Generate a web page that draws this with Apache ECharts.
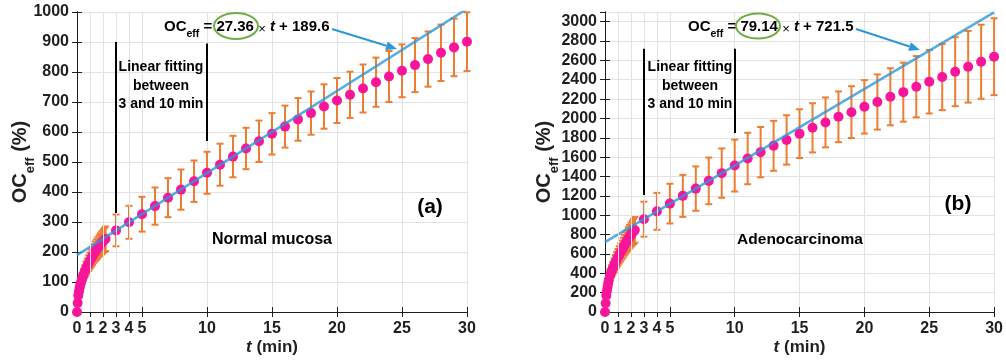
<!DOCTYPE html>
<html>
<head>
<meta charset="utf-8">
<script src="https://cdn.jsdelivr.net/npm/echarts@6.0.0/dist/echarts.min.js"></script>
<style>
html, body { margin: 0; padding: 0; background: #fff; }
#chart { width: 1006px; height: 363px; }
</style>
</head>
<body>
<div id="chart"></div>
<script>
// early samples, first minutes (min)
var earlyTimesA = [0, 0.05, 0.1, 0.15, 0.2, 0.25, 0.3, 0.4, 0.5, 0.6, 0.7, 0.8, 0.9, 1.0, 1.1, 1.2, 1.3, 1.4, 1.5, 1.6, 1.7, 1.8, 1.9, 2.0, 2.1, 2.2];
var earlyValuesA = [0, 30, 55, 68, 80, 90, 98, 112, 124, 135, 145, 154, 163, 171, 179, 187, 195, 202, 208, 214, 220, 225, 230, 235, 240, 244];
var earlyErrorsA = [0, 5, 8, 10, 12, 14, 15, 17, 19, 21, 23, 24, 26, 27, 29, 30, 31, 33, 34, 35, 36, 37, 38, 39, 40, 41];

var earlyTimesB = [0, 0.05, 0.1, 0.15, 0.2, 0.25, 0.3, 0.4, 0.5, 0.6, 0.7, 0.8, 0.9, 1.0, 1.1, 1.2, 1.3, 1.4, 1.5, 1.6, 1.7, 1.8, 1.9, 2.0, 2.1, 2.2, 2.3];
var earlyValuesB = [0, 90, 170, 220, 260, 300, 330, 385, 420, 450, 480, 510, 540, 565, 590, 615, 640, 665, 690, 712, 735, 758, 778, 798, 815, 832, 848];
var earlyErrorsB = [0, 14, 25, 32, 38, 44, 48, 56, 62, 67, 72, 77, 82, 86, 90, 94, 98, 102, 106, 110, 114, 118, 121, 124, 127, 130, 133];

// one sample per minute from 3 to 30 min
var minuteTimes = [3, 4, 5, 6, 7, 8, 9, 10, 11, 12, 13, 14, 15, 16, 17, 18, 19, 20, 21, 22, 23, 24, 25, 26, 27, 28, 29, 30];
var normalValues = [272, 299, 326, 353, 381, 408, 436, 464, 491, 518, 545, 569, 594, 618, 642, 663, 685, 705, 724, 745, 766, 785, 804, 823, 843, 864, 882, 901];
var normalErrors = [53, 55, 58, 62, 65, 67, 69, 70, 70, 69, 69, 69, 69, 70, 71, 72, 74, 75, 77, 80, 82, 85, 88, 90, 92, 94, 96, 98];
var adenoValues = [959, 1040, 1120, 1200, 1275, 1355, 1435, 1513, 1586, 1652, 1717, 1778, 1843, 1903, 1959, 2017, 2065, 2120, 2170, 2224, 2272, 2328, 2379, 2428, 2483, 2534, 2586, 2638];
var adenoErrors = [181, 191, 205, 217, 229, 241, 255, 268, 266, 260, 258, 255, 252, 254, 258, 262, 268, 276, 285, 295, 305, 316, 328, 342, 356, 370, 383, 397];

// linear fits (3-10 min)
var fitA = { slope: 27.36, intercept: 189.6 };
var fitB = { slope: 79.14, intercept: 721.5 };

var xTicks = [0, 1, 2, 3, 4, 5, 10, 15, 20, 25, 30];
var xExtraGrid = [1, 2, 3, 4];

var FONT = '"Liberation Sans", Arial, sans-serif';
var INK = '#1f1f1f';
var GRID = '#e2e2e2';
var PINK = '#f7159a';
var ORANGE = '#ed7d31';
var BLUE = '#2e97d8';

function points(ts, vs, es) {
    return ts.map(function (t, i) { return [t, vs[i], es[i]]; });
}
var dataA = points(earlyTimesA, earlyValuesA, earlyErrorsA).concat(points(minuteTimes, normalValues, normalErrors));
var dataB = points(earlyTimesB, earlyValuesB, earlyErrorsB).concat(points(minuteTimes, adenoValues, adenoErrors));

function fitLine(fit) {
    return [[0, fit.intercept], [30, fit.slope * 30 + fit.intercept]];
}

function errorBar(params, api) {
    var x = api.value(0), y = api.value(1), e = api.value(2);
    var hi = api.coord([x, y + e]);
    var lo = api.coord([x, y - e]);
    var cap = 3.5;
    var st = { stroke: ORANGE, lineWidth: 2 };
    return {
        type: 'group',
        children: [
            { type: 'line', shape: { x1: hi[0], y1: hi[1], x2: lo[0], y2: lo[1] }, style: st },
            { type: 'line', shape: { x1: hi[0] - cap, y1: hi[1], x2: hi[0] + cap, y2: hi[1] }, style: st },
            { type: 'line', shape: { x1: lo[0] - cap, y1: lo[1], x2: lo[0] + cap, y2: lo[1] }, style: st }
        ]
    };
}

var nameRich = {
    a: { fontSize: 20, fontWeight: 'bold', fontFamily: FONT, color: INK, lineHeight: 20, verticalAlign: 'top' },
    b: { fontSize: 13, fontWeight: 'bold', fontFamily: FONT, color: INK, padding: [14, 0, 0, 0], verticalAlign: 'top' }
};

function plain(v) { return String(v); }

function bottomAxis(grid) {
    return {
        type: 'value', gridIndex: grid, min: 0, max: 30,
        name: '{i|t} (min)', nameLocation: 'middle', nameGap: 27, nameMoveOverlap: false,
        nameTextStyle: {
            fontSize: 17, fontWeight: 'bold', fontFamily: FONT, color: INK,
            rich: { i: { fontSize: 17, fontWeight: 'bold', fontStyle: 'italic', fontFamily: FONT, color: INK } }
        },
        axisLine: { show: true, lineStyle: { color: INK, width: 1 } },
        axisTick: { inside: true, length: 5, lineStyle: { color: INK }, customValues: xTicks },
        axisLabel: { customValues: xTicks, formatter: plain, margin: 9, fontSize: 16, fontWeight: 'bold', fontFamily: FONT, color: INK },
        splitLine: { show: true, lineStyle: { color: GRID, width: 1 } }
    };
}
function topAxis(grid) {
    return {
        type: 'value', gridIndex: grid, min: 0, max: 30, position: 'top',
        axisLine: { show: true, lineStyle: { color: INK, width: 1 } },
        axisTick: { inside: true, length: 5, lineStyle: { color: INK }, customValues: xTicks },
        axisLabel: { show: false },
        splitLine: { show: false }
    };
}
function leftAxis(grid, max, step, gap) {
    return {
        type: 'value', gridIndex: grid, min: 0, max: max, interval: step,
        name: '{a|OC}{b|eff}{a| (%)}', nameLocation: 'middle', nameGap: gap, nameMoveOverlap: false,
        nameTextStyle: { rich: nameRich },
        axisLine: { show: true, lineStyle: { color: INK, width: 1 } },
        axisTick: { inside: true, length: 5, lineStyle: { color: INK } },
        axisLabel: { formatter: plain, margin: 8, fontSize: 16, fontWeight: 'bold', fontFamily: FONT, color: INK, showMaxLabel: max % step === 0 },
        splitLine: { show: true, lineStyle: { color: GRID, width: 1 } }
    };
}
function rightAxis(grid, max, step) {
    return {
        type: 'value', gridIndex: grid, min: 0, max: max, interval: step, position: 'right',
        axisLine: { show: true, lineStyle: { color: INK, width: 1 } },
        axisTick: { inside: true, length: 5, lineStyle: { color: INK } },
        axisLabel: { show: false },
        splitLine: { show: false }
    };
}

function panelSeries(xi, yi, data, fit, marks) {
    return [
        {
            // vertical grid lines for the crowded first minutes
            type: 'line', xAxisIndex: xi, yAxisIndex: yi, data: [], z: 1, silent: true,
            markLine: {
                silent: true, symbol: 'none', label: { show: false },
                lineStyle: { color: GRID, width: 1, type: 'solid' },
                data: xExtraGrid.map(function (v) { return { xAxis: v }; })
            }
        },
        {
            type: 'custom', xAxisIndex: xi, yAxisIndex: yi, renderItem: errorBar,
            data: data, encode: { x: 0, y: 1 }, z: 2, silent: true
        },
        {
            type: 'scatter', xAxisIndex: xi, yAxisIndex: yi, data: data,
            symbolSize: 10, itemStyle: { color: PINK, opacity: 1 }, z: 3, silent: true
        },
        {
            type: 'line', xAxisIndex: xi, yAxisIndex: yi, data: fitLine(fit),
            showSymbol: false, lineStyle: { color: BLUE, width: 2.5, opacity: 0.8 }, z: 4, silent: true,
            markLine: {
                silent: true, symbol: 'none', label: { show: false },
                lineStyle: { color: '#000', width: 2, type: 'solid' },
                data: marks.map(function (m) { return [{ coord: [m[0], m[1]] }, { coord: [m[0], m[2]] }]; })
            }
        }
    ];
}

// equation label with a green ring around the slope, and an arrow to the line
function equation(x, slope, intercept, ring, arrow) {
    var r = {
        a: { fontSize: 15, fontWeight: 'bold', fontFamily: FONT, color: BLUE, lineHeight: 16, verticalAlign: 'top' },
        b: { fontSize: 10.5, fontWeight: 'bold', fontFamily: FONT, color: BLUE, padding: [10, 0, 0, 0], verticalAlign: 'top' },
        x: { fontSize: 13, fontFamily: FONT, color: '#8ab8d8', padding: [4, 0, 0, 0], verticalAlign: 'top' },
        i: { fontSize: 15, fontWeight: 'bold', fontStyle: 'italic', fontFamily: FONT, color: BLUE, lineHeight: 16, verticalAlign: 'top' }
    };
    var dx = arrow[2] - arrow[0], dy = arrow[3] - arrow[1];
    var len = Math.sqrt(dx * dx + dy * dy), ux = dx / len, uy = dy / len;
    var hl = 11, hw = 4.5;
    var bx = arrow[2] - ux * hl, by = arrow[3] - uy * hl;
    return [
        {
            type: 'text', x: x, y: 19, z: 10,
            style: { text: '{a|OC}{b|eff}{a| = ' + slope + ' }{x|×}{i| t}{a| + ' + intercept + '}', rich: r, textVerticalAlign: 'top' }
        },
        {
            type: 'ellipse', z: 11, shape: { cx: ring[0], cy: ring[1], rx: ring[2], ry: ring[3] },
            style: { fill: 'none', stroke: '#70ad47', lineWidth: 2 }
        },
        {
            type: 'line', z: 10, shape: { x1: arrow[0], y1: arrow[1], x2: bx, y2: by },
            style: { stroke: BLUE, lineWidth: 2 }
        },
        {
            type: 'polygon', z: 10,
            shape: { points: [[arrow[2], arrow[3]], [bx - uy * hw, by + ux * hw], [bx + uy * hw, by - ux * hw]] },
            style: { fill: BLUE }
        }
    ];
}

function note(x, y, text, size, align) {
    return {
        type: 'text', x: x, y: y, z: 10,
        style: {
            text: text, fontSize: size, fontWeight: 'bold', fontFamily: FONT, fill: '#000',
            textAlign: align || 'center', textVerticalAlign: 'middle', lineHeight: 18.5
        }
    };
}

var chart = echarts.init(document.getElementById('chart'), null, { renderer: 'canvas' });
chart.setOption({
    backgroundColor: '#fff',
    animation: false,
    grid: [
        { left: 77, top: 12, width: 390, height: 300 },
        { left: 605, top: 12, width: 390, height: 300 }
    ],
    xAxis: [bottomAxis(0), topAxis(0), bottomAxis(1), topAxis(1)],
    yAxis: [leftAxis(0, 1000, 100, 40), rightAxis(0, 1000, 100), leftAxis(1, 3100, 200, 44), rightAxis(1, 3100, 200)],
    series: panelSeries(0, 0, dataA, fitA, [[3, 330, 900], [10, 570, 895]])
        .concat(panelSeries(2, 2, dataB, fitB, [[3, 1210, 2720], [10, 1850, 2720]])),
    graphic: [].concat(
        equation(164, '27.36', '189.6', [236, 26, 22, 13], [332, 29, 397, 49]),
        equation(688, '79.14', '721.5', [758, 26, 22, 12.5], [856, 29, 920, 50]),
        [
            note(161, 86, 'Linear fitting\nbetween\n3 and 10 min', 14),
            note(690, 86, 'Linear fitting\nbetween\n3 and 10 min', 14),
            note(272, 240, 'Normal mucosa', 16),
            note(800, 240, 'Adenocarcinoma', 15.5),
            note(430, 207, '(a)', 21),
            note(958, 204, '(b)', 21)
        ]
    )
});
</script>
</body>
</html>
